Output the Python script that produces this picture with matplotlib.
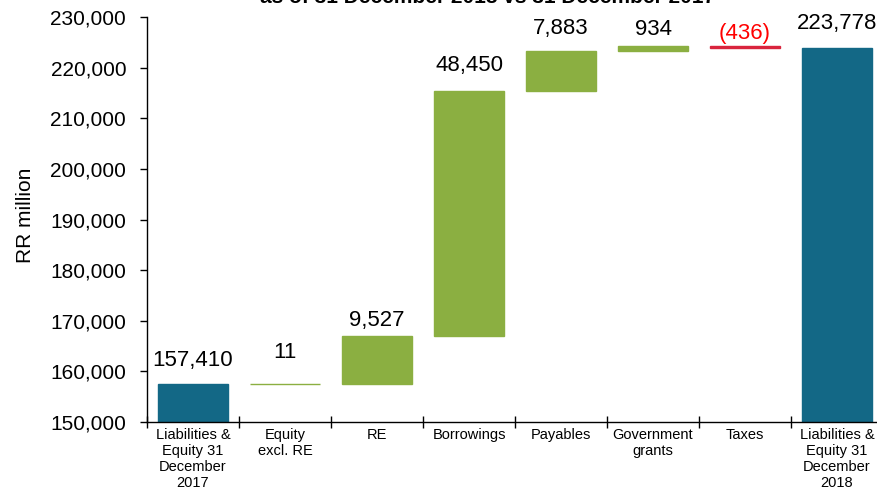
import numpy as np
import matplotlib
matplotlib.use("Agg")
import matplotlib.pyplot as plt
from matplotlib.ticker import FuncFormatter, FixedLocator

plt.rcParams['font.family'] = ['Liberation Sans', 'DejaVu Sans']

# data (RR million)
categories = ['Liabilities &\nEquity 31\nDecember\n2017', 'Equity\nexcl. RE', 'RE',
              'Borrowings', 'Payables', 'Government\ngrants', 'Taxes',
              'Liabilities &\nEquity 31\nDecember\n2018']
start_total = 157410
changes = [11, 9527, 48450, 7883, 934, -436]
end_total = 223778
value_labels = ['157,410', '11', '9,527', '48,450', '7,883', '934', '(436)', '223,778']

# colours / label tweaks
teal = '#136886'
green = '#8BAF41'
neg = '#D9243D'
label_offsets = [17, 23, 11, 18, 16, 12, 9, 18]   # points above bar top

# waterfall geometry
bottoms = [0]
heights = [start_total]
colors = [teal]
running = start_total
for d in changes:
    if d >= 0:
        bottoms.append(running)
        heights.append(d)
        colors.append(green)
    else:
        bottoms.append(running + d)
        heights.append(-d)
        colors.append(neg)
    running += d
bottoms.append(0)
heights.append(end_total)
colors.append(teal)
tops = [b + h for b, h in zip(bottoms, heights)]

fig = plt.figure(figsize=(8.78, 4.93), dpi=100)
ax = fig.add_axes([147/878, 1 - 422/493, 736/878, 405/493])

x = np.arange(len(categories))
ax.bar(x, heights, bottom=bottoms, width=0.77, color=colors,
       edgecolor=colors, linewidth=1.0, zorder=2)

for i, (t, lab) in enumerate(zip(tops, value_labels)):
    ax.annotate(lab, (x[i], t), xytext=(0, label_offsets[i]), textcoords='offset points',
                ha='center', va='center', fontsize=16,
                color='red' if lab.startswith('(') else 'black')

ax.set_xlim(-0.5, len(categories) - 0.5)
ax.set_ylim(150000, 230000)
ax.set_yticks(np.arange(150000, 230001, 10000))
ax.yaxis.set_major_formatter(FuncFormatter(lambda v, p: f'{int(v):,}'))
ax.tick_params(axis='y', direction='out', length=5, width=1, pad=10, labelsize=15)

ax.xaxis.set_major_locator(FixedLocator(np.arange(-0.5, len(categories), 1.0)))
ax.xaxis.set_major_formatter(plt.NullFormatter())
ax.xaxis.set_minor_locator(FixedLocator(x))
ax.set_xticklabels(categories, minor=True)
ax.tick_params(axis='x', which='major', direction='inout', length=9, width=1)
ax.tick_params(axis='x', which='minor', length=0, pad=4, labelsize=10.5)

for s in ['top', 'right']:
    ax.spines[s].set_visible(False)
for s in ['left', 'bottom']:
    ax.spines[s].set_linewidth(1)
    ax.spines[s].set_color('black')

ax.set_ylabel('RR million', fontsize=15, va='center')
ax.yaxis.set_label_coords(-0.165, 0.51)

fig.text(0.555, 1 - 7/493, 'as of 31 December 2018 vs 31 December 2017',
         ha='center', va='bottom', fontsize=15, fontweight='bold')

fig.savefig('out.png', dpi=100)
